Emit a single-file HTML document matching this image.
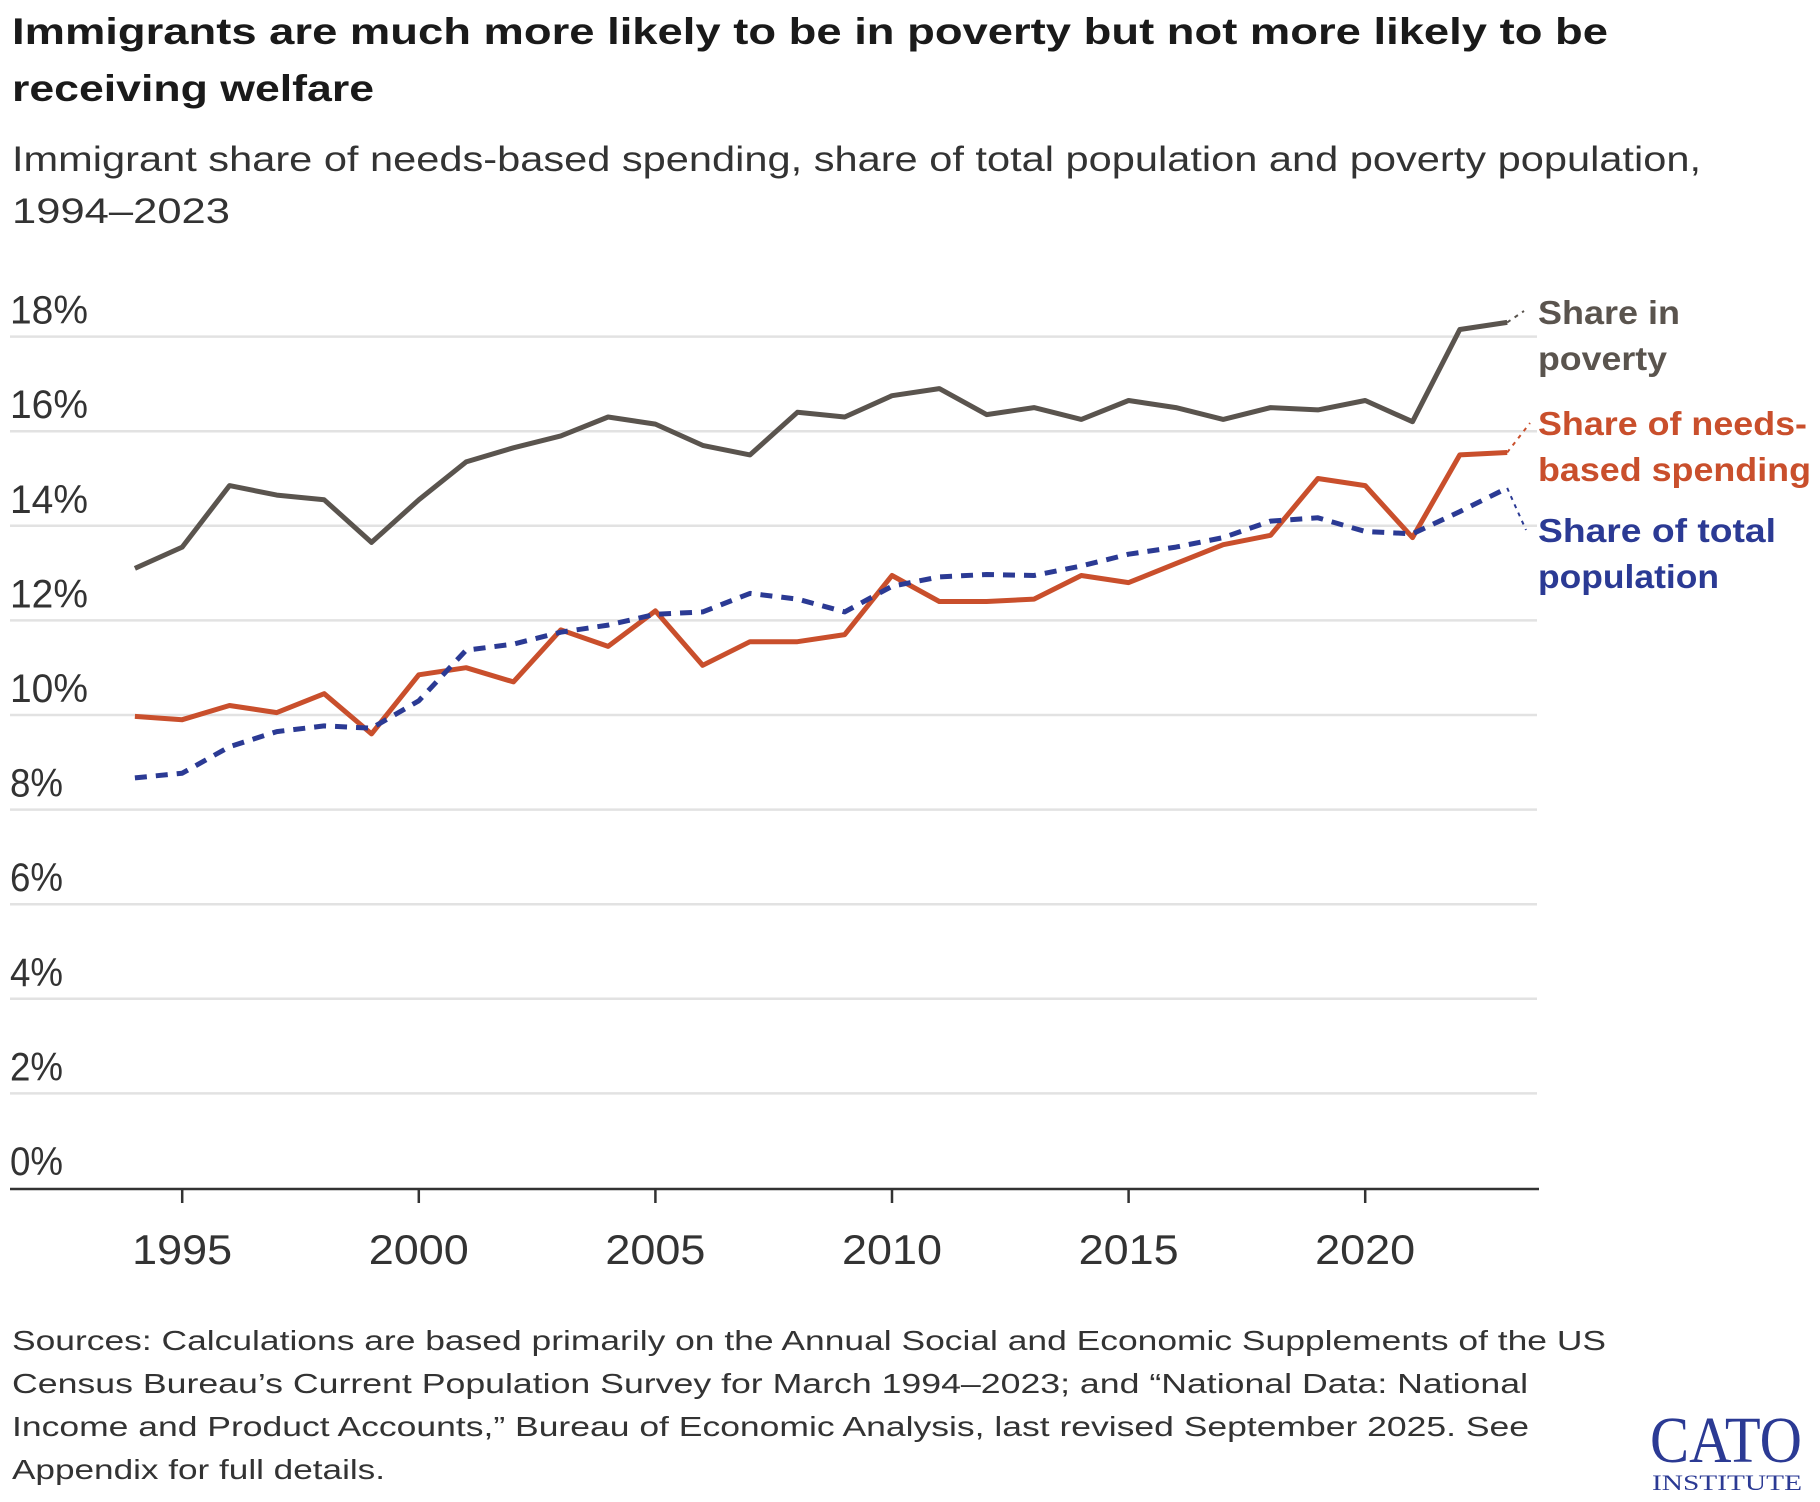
<!DOCTYPE html>
<html><head><meta charset="utf-8"><style>
html,body{margin:0;padding:0;background:#fff;}
svg{display:block;font-family:"Liberation Sans",sans-serif;}
</style></head><body>
<svg id="chart" width="1820" height="1502" viewBox="0 0 1820 1502" xmlns="http://www.w3.org/2000/svg">
<g font-weight="bold" font-size="37" fill="#1a1a1a">
<text x="12" y="44" textLength="1596" lengthAdjust="spacingAndGlyphs">Immigrants are much more likely to be in poverty but not more likely to be</text>
<text x="12" y="101" textLength="362" lengthAdjust="spacingAndGlyphs">receiving welfare</text>
</g>
<g font-size="35" fill="#333">
<text x="12" y="171" textLength="1689" lengthAdjust="spacingAndGlyphs">Immigrant share of needs-based spending, share of total population and poverty population,</text>
<text x="12" y="223" textLength="218" lengthAdjust="spacingAndGlyphs">1994–2023</text>
</g>
<g id="grid"></g>
<g id="ylabels" font-size="40" fill="#333"></g>
<g id="xaxis" font-size="42" fill="#333"></g>
<g id="series"></g>
<g font-weight="bold" font-size="33">
<text fill="#5a544e"><tspan x="1538" y="324" textLength="142" lengthAdjust="spacingAndGlyphs">Share in</tspan><tspan x="1538" y="370" textLength="129" lengthAdjust="spacingAndGlyphs">poverty</tspan></text>
<text fill="#c94f2c"><tspan x="1538" y="435" textLength="269" lengthAdjust="spacingAndGlyphs">Share of needs-</tspan><tspan x="1538" y="481" textLength="273" lengthAdjust="spacingAndGlyphs">based spending</tspan></text>
<text fill="#2b3a94"><tspan x="1538" y="542" textLength="238" lengthAdjust="spacingAndGlyphs">Share of total</tspan><tspan x="1538" y="588" textLength="181" lengthAdjust="spacingAndGlyphs">population</tspan></text>
</g>
<g font-size="28" fill="#333">
<text x="12" y="1350" textLength="1594" lengthAdjust="spacingAndGlyphs">Sources: Calculations are based primarily on the Annual Social and Economic Supplements of the US</text>
<text x="12" y="1393" textLength="1516" lengthAdjust="spacingAndGlyphs">Census Bureau’s Current Population Survey for March 1994–2023; and “National Data: National</text>
<text x="12" y="1436" textLength="1517" lengthAdjust="spacingAndGlyphs">Income and Product Accounts,” Bureau of Economic Analysis, last revised September 2025. See</text>
<text x="12" y="1479" textLength="373" lengthAdjust="spacingAndGlyphs">Appendix for full details.</text>
</g>
<g fill="#2b3a94" font-family="Liberation Serif,serif">
<text x="1650" y="1462" font-size="66" textLength="152" lengthAdjust="spacingAndGlyphs">CATO</text>
<text x="1652" y="1490" font-size="22" textLength="150" lengthAdjust="spacingAndGlyphs">INSTITUTE</text>
</g>
</svg>
<script>
const years = [1994,1995,1996,1997,1998,1999,2000,2001,2002,2003,2004,2005,2006,2007,2008,2009,2010,2011,2012,2013,2014,2015,2016,2017,2018,2019,2020,2021,2022,2023];
const povertyShare = [13.1,13.55,14.85,14.65,14.55,13.65,14.55,15.35,15.65,15.9,16.3,16.15,15.7,15.5,16.4,16.3,16.75,16.9,16.35,16.5,16.25,16.65,16.5,16.25,16.5,16.45,16.65,16.2,18.15,18.3];
const spendingShare = [9.97,9.9,10.2,10.05,10.45,9.6,10.85,11.0,10.7,11.8,11.45,12.2,11.05,11.55,11.55,11.7,12.95,12.4,12.4,12.45,12.95,12.8,13.2,13.6,13.8,15.0,14.85,13.75,15.5,15.55];
const populationShare = [8.67,8.77,9.33,9.65,9.77,9.72,10.3,11.37,11.5,11.75,11.9,12.13,12.18,12.57,12.45,12.18,12.72,12.92,12.97,12.95,13.15,13.4,13.55,13.75,14.1,14.17,13.88,13.83,14.3,14.8];
const yTicks = [0,2,4,6,8,10,12,14,16,18];
const xTicks = [1995,2000,2005,2010,2015,2020];

const NS = "http://www.w3.org/2000/svg";
function X(yr){ return 182.2 + (yr - 1995) * 47.32; }
function Y(v){ return 1188 - v * 47.3; }
function mk(tag, attrs, parent){ const e = document.createElementNS(NS, tag); for (const k in attrs) e.setAttribute(k, attrs[k]); parent.appendChild(e); return e; }

const grid = document.getElementById('grid');
const yl = document.getElementById('ylabels');
yTicks.forEach(t => {
  if (t > 0) {
    const l = mk('line', {x1:10, x2:1537, y1:Y(t), y2:Y(t), stroke:'#e2e2e2', 'stroke-width':2.5}, grid);
    
    
  }
  const w = t >= 10 ? 78 : 53;
  const tx = mk('text', {x:10, y:Y(t) - 13, textLength:w, lengthAdjust:'spacingAndGlyphs'}, yl);
  tx.textContent = t + '%';
  
  
});
const xa = document.getElementById('xaxis');
const axl = mk('line', {x1:10, x2:1539, y1:1189, y2:1189, stroke:'#333', 'stroke-width':2.5}, xa);


xTicks.forEach(t => {
  const tk = mk('line', {x1:X(t), x2:X(t), y1:1189, y2:1203, stroke:'#333', 'stroke-width':2.5}, xa);
  
  
  const tx = mk('text', {x:X(t) - 50, y:1264, textLength:100, lengthAdjust:'spacingAndGlyphs'}, xa);
  tx.textContent = t;
  
  
});

const sg = document.getElementById('series');
function series(vals, color, dash, name, lx, ly){
  const pts = vals.map((v,i) => X(years[i]).toFixed(1) + ',' + Y(v).toFixed(1)).join(' ');
  const p = mk('polyline', {points:pts, fill:'none', stroke:color, 'stroke-width':5, 'stroke-linejoin':'round', 'stroke-dasharray':dash}, sg);
  
  
  const n = vals.length - 1;
  const c = mk('line', {x1:X(years[n]), y1:Y(vals[n]), x2:lx, y2:ly, stroke:color, 'stroke-width':2, 'stroke-dasharray':'4,5'}, sg);
  
  
}
series(povertyShare, '#5a544e', 'none', 'poverty', 1524, 311);
series(spendingShare, '#c94f2c', 'none', 'spending', 1530, 423);
series(populationShare, '#2b3a94', '12,9', 'population', 1526, 530);
</script>
</body></html>
